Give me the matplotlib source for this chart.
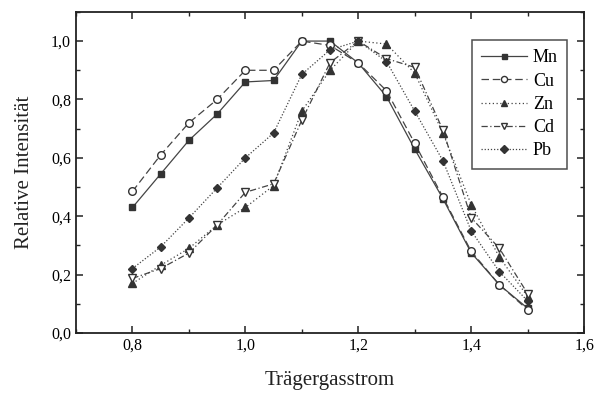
import numpy as np
import matplotlib
matplotlib.use("Agg")
import matplotlib.pyplot as plt
from matplotlib.ticker import MultipleLocator, FuncFormatter

plt.rcParams['font.family'] = ['Liberation Serif', 'DejaVu Serif']

x = [0.80, 0.85, 0.90, 0.95, 1.00, 1.05, 1.10, 1.15, 1.20, 1.25, 1.30, 1.35, 1.40, 1.45, 1.50]
mn = [0.43, 0.545, 0.66, 0.75, 0.86, 0.865, 1.00, 1.00, 0.925, 0.81, 0.63, 0.46, 0.275, 0.165, 0.085]
cu = [0.485, 0.61, 0.72, 0.80, 0.90, 0.90, 1.00, 0.985, 0.925, 0.83, 0.65, 0.465, 0.28, 0.165, 0.08]
zn = [0.17, 0.232, 0.29, 0.37, 0.43, 0.505, 0.76, 0.90, 1.00, 0.99, 0.89, 0.685, 0.44, 0.26, 0.125]
cd = [0.187, 0.221, 0.274, 0.37, 0.482, 0.511, 0.729, 0.926, 1.00, 0.94, 0.91, 0.695, 0.395, 0.29, 0.135]
pb = [0.221, 0.295, 0.394, 0.497, 0.60, 0.685, 0.886, 0.97, 1.00, 0.93, 0.76, 0.59, 0.35, 0.21, 0.11]

fig = plt.figure(figsize=(5.96, 3.96), dpi=100)
ax = fig.add_axes([0.1275, 0.159, 0.8525, 0.811])

lc = '#444444'
mc = '#333333'
ax.plot(x, mn, color=lc, lw=0.9, ls='-', marker='s', ms=4.5, mfc=mc, mec=mc, label='Mn')
ax.plot(x, cu, color=lc, lw=0.9, ls=(0, (6, 3)), marker='o', ms=5.5, mfc='white', mec=mc, label='Cu')
ax.plot(x, zn, color=lc, lw=0.9, ls=(0, (1, 2)), marker='^', ms=5.5, mfc=mc, mec=mc, label='Zn')
ax.plot(x, cd, color=lc, lw=0.9, ls=(0, (5, 2, 1, 2)), marker='v', ms=6, mfc='white', mec=mc, label='Cd')
ax.plot(x, pb, color=lc, lw=0.9, ls=(0, (1, 1.5)), marker='D', ms=4.5, mfc=mc, mec=mc, label='Pb')

ax.set_xlim(0.7, 1.6)
ax.set_ylim(0.0, 1.1)
ax.xaxis.set_major_locator(MultipleLocator(0.2))
ax.xaxis.set_minor_locator(MultipleLocator(0.1))
ax.yaxis.set_major_locator(MultipleLocator(0.2))
ax.yaxis.set_minor_locator(MultipleLocator(0.1))
fmt = FuncFormatter(lambda v, p: ('%.1f' % v).replace('.', ','))
ax.xaxis.set_major_formatter(fmt)
ax.yaxis.set_major_formatter(fmt)
ax.tick_params(which='both', direction='in', top=True, right=True, labelsize=11.5, color='#222222')
ax.tick_params(which='major', length=5, width=1.1)
ax.tick_params(which='minor', length=3, width=1)
for s in ax.spines.values():
    s.set_linewidth(1.3)
    s.set_color('#222222')

ax.set_xlabel('Trägergasstrom', fontsize=15, labelpad=12, color='#222222')
ax.set_ylabel('Relative Intensität', fontsize=15, labelpad=12, color='#222222')

leg = ax.legend(loc='upper right', bbox_to_anchor=(0.984, 0.94), fontsize=13,
                frameon=True, fancybox=False, edgecolor='#222222', handlelength=2.6,
                borderpad=0.5, labelspacing=0.35, handletextpad=0.3, markerscale=0.8)
leg.get_frame().set_linewidth(1.1)

fig.savefig('out.png', dpi=100)
